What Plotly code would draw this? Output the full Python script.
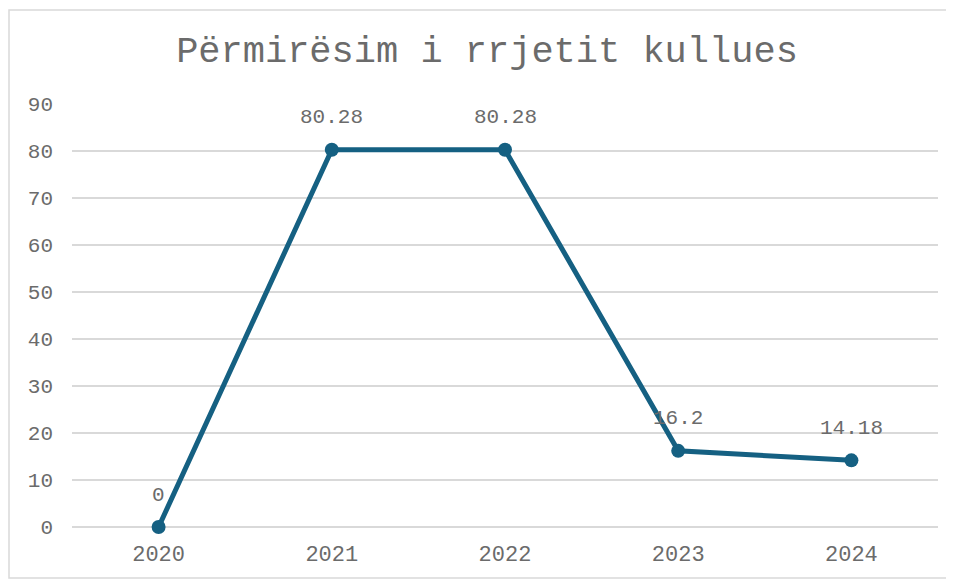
import plotly.graph_objects as go

years = ["2020", "2021", "2022", "2023", "2024"]
values = [0, 80.28, 80.28, 16.2, 14.18]
labels = ["0", "80.28", "80.28", "16.2", "14.18"]

# the page body adds an 8px offset at top/left
OFF = 8
W, H = 954 - OFF, 581 - OFF
ML, MT = 72 - OFF, 104 - OFF
MR, MB = 16, 54
color = "#156082"
font_family = "Liberation Mono, Courier New, monospace"
text_color = "#6b6b6b"

fig = go.Figure()
fig.add_trace(go.Scatter(
    x=list(range(len(years))), y=values, mode="lines+markers",
    line=dict(color=color, width=5),
    marker=dict(color=color, size=14),
    cliponaxis=False,
    hovertext=years, hoverinfo="text+y",
))

for i, (y, t) in enumerate(zip(values, labels)):
    fig.add_annotation(x=i, y=y, xref="x", yref="y", text=t, showarrow=False,
                       yshift=32,
                       font=dict(family=font_family, size=21, color=text_color))

# outer chart border
pw, ph = W - ML - MR, H - MT - MB
fig.add_shape(type="rect", xref="paper", yref="paper",
              x0=(8 - OFF - ML + 1) / pw, x1=(950 - OFF - ML) / pw,
              y0=(H - MB - (578 - OFF)) / ph, y1=(H - MB - (10 - OFF)) / ph,
              line=dict(color="#d9d9d9", width=1.5), layer="below")

fig.update_layout(
    width=W, height=H,
    margin=dict(l=ML, r=MR, t=MT, b=MB),
    paper_bgcolor="white", plot_bgcolor="white",
    showlegend=False,
    title=dict(text="Përmirësim i rrjetit kullues", x=(487 - OFF) / W, xanchor="center",
               y=1 - (49 - OFF) / H, yanchor="middle",
               font=dict(family=font_family, size=37, color=text_color)),
    xaxis=dict(tickmode="array", tickvals=list(range(len(years))), ticktext=years,
               showgrid=False, zeroline=False, showline=False,
               ticks="", ticklabelstandoff=11,
               tickfont=dict(family=font_family, size=22, color=text_color),
               range=[-0.5, len(years) - 0.5]),
    yaxis=dict(range=[0, 90], dtick=10, showgrid=True, gridcolor="#d9d9d9",
               gridwidth=1.5, zeroline=True, zerolinecolor="#d9d9d9", zerolinewidth=1.5,
               showline=False, ticks="", ticklabelstandoff=18,
               tickfont=dict(family=font_family, size=21, color=text_color)),
)

fig.write_html("out.html")
